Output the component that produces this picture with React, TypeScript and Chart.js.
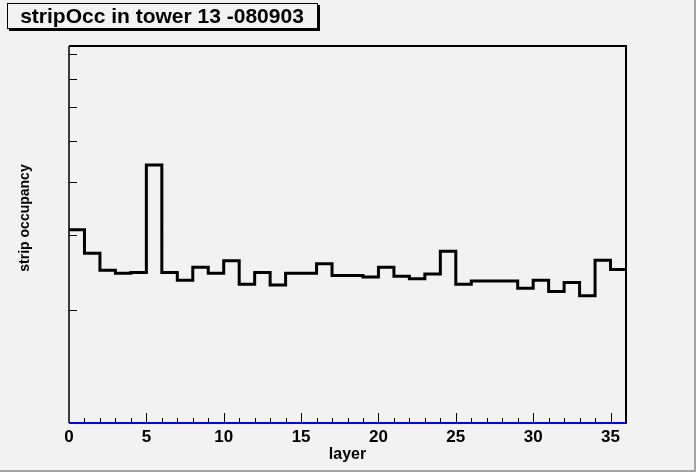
import React, {useEffect, useRef} from 'react'
import {Chart, registerables} from 'chart.js'

Chart.register(...registerables)

// bin edges along the layer axis (36 bins)
const binEdges = [
  0, 1, 2, 3, 4, 5, 6, 7, 8, 9, 10, 11, 12, 13, 14, 15, 16, 17, 18, 19, 20, 21, 22, 23, 24, 25, 26,
  27, 28, 29, 30, 31, 32, 33, 34, 35, 36,
]

// strip occupancy per layer (arbitrary units, log axis)
const occupancy = [
  3.09, 2.72, 2.48, 2.44, 2.45, 4.39, 2.45, 2.35, 2.52, 2.44, 2.61, 2.3, 2.45, 2.29, 2.44, 2.44,
  2.57, 2.41, 2.41, 2.39, 2.52, 2.4, 2.37, 2.43, 2.75, 2.3, 2.34, 2.34, 2.34, 2.25, 2.35, 2.21,
  2.32, 2.16, 2.62, 2.49,
]

// second (blue) histogram, sits on the bottom of the frame
const lowOccupancy = [
  1.0843, 1.0843, 1.0843, 1.0843, 1.0843, 1.0843, 1.0843, 1.0843, 1.0843, 1.0843, 1.0843, 1.0843,
  1.0843, 1.0843, 1.0843, 1.0843, 1.0843, 1.0843, 1.0843, 1.0843, 1.0843, 1.0843, 1.0843, 1.0843,
  1.0843, 1.0843, 1.0843, 1.0843, 1.0843, 1.0843, 1.0843, 1.0843, 1.0843, 1.0843, 1.0843, 1.0843,
]

const xMajorTicks = [0, 5, 10, 15, 20, 25, 30, 35]
const yTicks = [2, 3, 4, 5, 6, 7, 8]
const yMin = 1.0843
const yMax = 8.36

const titleText = 'stripOcc in tower 13 -080903'
const xTitle = 'layer'
const yTitle = 'strip occupancy'

const FONT = '"Liberation Sans", Arial, Helvetica, sans-serif'

// point i carries the value of bin i; last edge closes the final bin
const toSteps = (values: number[]) =>
  binEdges.map((e, i) => ({x: e, y: values[Math.min(i, values.length - 1)]}))

const rootStyle = {
  id: 'rootStyle',
  beforeDraw(chart: any) {
    const {ctx, width, height} = chart
    ctx.save()
    ctx.fillStyle = '#f2f2f2'
    ctx.fillRect(0, 0, width, height)
    ctx.fillStyle = '#a4a4a4'
    ctx.fillRect(width - 2, 0, 2, height)
    ctx.fillRect(0, height - 2, width, 2)
    ctx.restore()
  },
  beforeDatasetsDraw(chart: any) {
    const {ctx, chartArea: a, scales} = chart
    const x = scales.x
    const y = scales.y
    ctx.save()
    ctx.strokeStyle = '#000'
    // frame
    ctx.lineWidth = 2
    ctx.beginPath()
    ctx.moveTo(a.left, a.top)
    ctx.lineTo(a.right, a.top)
    ctx.lineTo(a.right, a.bottom)
    ctx.lineTo(a.left, a.bottom)
    ctx.stroke()
    ctx.lineWidth = 1.5
    ctx.beginPath()
    ctx.moveTo(a.left, a.top)
    ctx.lineTo(a.left, a.bottom)
    ctx.stroke()

    // x ticks, inside the frame
    ctx.lineWidth = 1
    ctx.beginPath()
    binEdges.forEach((e) => {
      if (e <= x.min || e >= x.max) return
      const px = Math.round(x.getPixelForValue(e)) + 0.5
      const len = xMajorTicks.includes(e) ? 10 : 5
      ctx.moveTo(px, a.bottom)
      ctx.lineTo(px, a.bottom - len)
    })
    // y ticks
    yTicks.forEach((v) => {
      const py = Math.round(y.getPixelForValue(v)) + 0.5
      ctx.moveTo(a.left, py)
      ctx.lineTo(a.left + 8, py)
    })
    ctx.stroke()
    ctx.restore()
  },
  afterDraw(chart: any) {
    const {ctx, chartArea: a, scales} = chart
    const x = scales.x
    ctx.save()
    ctx.fillStyle = '#000'

    // x tick labels
    ctx.font = `bold 17px ${FONT}`
    ctx.textAlign = 'center'
    ctx.textBaseline = 'alphabetic'
    xMajorTicks.forEach((v) => {
      ctx.fillText(String(v), x.getPixelForValue(v), 442)
    })

    // axis titles
    ctx.font = `bold 16px ${FONT}`
    ctx.fillText(xTitle, (a.left + a.right) / 2, 459)

    ctx.save()
    ctx.translate(29, 218)
    ctx.rotate(-Math.PI / 2)
    ctx.font = `bold 14px ${FONT}`
    ctx.fillText(yTitle, 0, 0)
    ctx.restore()

    // title box
    const bx = 7
    const by = 3
    const bw = 310
    const bh = 25
    ctx.fillStyle = '#000'
    ctx.fillRect(bx + 2, by + 2, bw + 1, bh + 1)
    ctx.fillStyle = '#f2f2f2'
    ctx.fillRect(bx, by, bw, bh)
    ctx.strokeStyle = '#000'
    ctx.lineWidth = 1
    ctx.strokeRect(bx + 0.5, by + 0.5, bw, bh)
    ctx.fillStyle = '#000'
    ctx.font = `bold 21px ${FONT}`
    ctx.textAlign = 'center'
    ctx.fillText(titleText, bx + bw / 2, 23)
    ctx.restore()
  },
}

export default function App() {
  const canvasRef = useRef<HTMLCanvasElement | null>(null)

  useEffect(() => {
    if (!canvasRef.current) {
      return
    }
    const chart = new Chart(canvasRef.current, {
      type: 'line',
      data: {
        datasets: [
          {
            label: 'stripOcc',
            data: toSteps(occupancy),
            stepped: 'before',
            borderColor: '#000',
            borderWidth: 3,
            pointRadius: 0,
            fill: false,
            order: 0,
          },
          {
            label: 'low',
            data: toSteps(lowOccupancy),
            stepped: 'before',
            borderColor: '#0000ff',
            borderWidth: 2,
            pointRadius: 0,
            fill: false,
            order: 1,
            clip: {left: 0, top: 0, right: 0, bottom: 2},
          },
        ],
      } as any,
      options: {
        animation: false,
        responsive: true,
        maintainAspectRatio: false,
        layout: {padding: {left: 69, right: 70, top: 46, bottom: 49}},
        plugins: {
          legend: {display: false},
          title: {display: false},
          tooltip: {enabled: false},
        },
        scales: {
          x: {type: 'linear', min: 0, max: 36, display: false},
          y: {type: 'logarithmic', min: yMin, max: yMax, display: false},
        },
      },
      plugins: [rootStyle],
    })
    return () => {
      chart.destroy()
    }
  }, [])

  return (
    <div style={{position: 'fixed', left: 0, top: 0, width: 696, height: 472}}>
      <canvas ref={canvasRef} />
    </div>
  )
}
